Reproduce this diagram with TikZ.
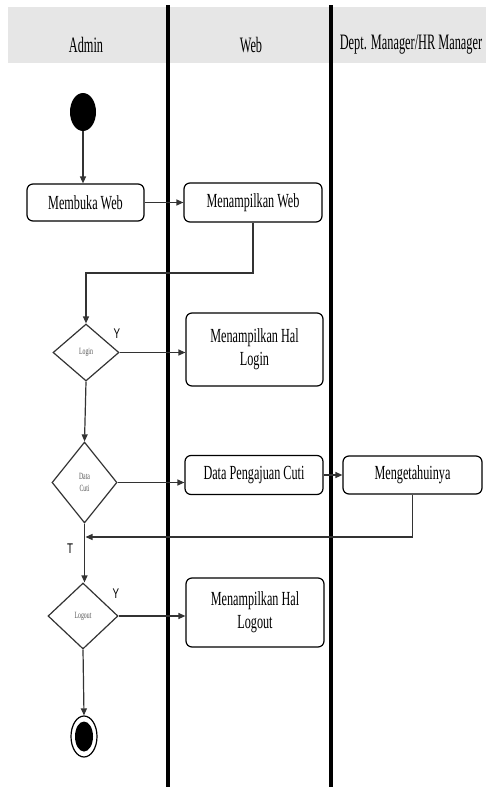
\documentclass[tikz,border=0pt]{standalone}
\usepackage{fontspec}
\setmainfont{Liberation Serif}[FakeStretch=0.61]
\newfontfamily\headfont{Liberation Serif}[FakeStretch=0.56]
\newfontfamily\labelfont{Liberation Sans}[FakeStretch=0.7]
\usetikzlibrary{shapes.geometric,arrows.meta}
\definecolor{headgray}{HTML}{E6E6E6}
\definecolor{linegray}{HTML}{333333}
\definecolor{smalltext}{HTML}{555555}
\begin{document}
\begin{tikzpicture}[x=1pt,y=-1pt,
  actbox/.style={draw=black,line width=1.2pt,rounded corners=6pt,align=center,
    font=\fontsize{20}{23}\selectfont,inner sep=0pt},
  decision/.style={diamond,draw=linegray,line width=1.2pt,inner sep=0pt,align=center,
    font=\fontsize{9.5}{12}\selectfont\color{smalltext}},
  flow/.style={draw=linegray,line width=1.2pt,-{Triangle[length=7pt,width=6pt]}},
  lane/.style={draw=black,line width=3.8pt},
  headtext/.style={font=\headfont\fontsize{22}{24}\selectfont},
  guard/.style={font=\labelfont\fontsize{14}{16}\selectfont}]
\useasboundingbox (0,0) rectangle (486,787);

% swimlane header band and dividers
\fill[headgray] (8,7) rectangle (486,63);
\node[headtext] (hAdmin) at (86,45) {Admin};
\node[headtext] (hWeb) at (251,45) {Web};
\node[headtext] (hMgr) at (411,45) {Dept. Manager/HR Manager};
\draw[lane] (168,5) -- (168,787);
\draw[lane] (331,5) -- (331,787);

% activity nodes
\node[ellipse,fill=black,minimum width=26pt,minimum height=38pt,inner sep=0pt] (start) at (83,112) {};
\node[actbox,minimum width=117pt,minimum height=37pt] (membuka) at (85.5,202.5) {Membuka Web};
\node[actbox,minimum width=138pt,minimum height=39pt] (menWeb) at (253,202.5) {Menampilkan Web};
\node[decision,minimum width=66pt,minimum height=57pt] (login) at (86,352.5) {Login};
\node[actbox,minimum width=137pt,minimum height=73pt] (halLogin) at (254.5,349.5) {Menampilkan Hal\\Login};
\node[decision,minimum width=65pt,minimum height=81pt] (dataCuti) at (84.5,482.5) {Data\\Cuti};
\node[actbox,minimum width=138pt,minimum height=39pt] (pengajuan) at (254,475) {Data Pengajuan Cuti};
\node[actbox,minimum width=139pt,minimum height=38pt] (tahu) at (412.5,475) {Mengetahuinya};
\node[decision,minimum width=70pt,minimum height=66pt] (logout) at (83,616) {Logout};
\node[actbox,minimum width=138pt,minimum height=69pt] (halLogout) at (255,612.5) {Menampilkan Hal\\Logout};
\node[ellipse,draw=black,line width=1.2pt,minimum width=26pt,minimum height=41pt,inner sep=0pt] (end) at (84,736.5) {};
\node[ellipse,fill=black,minimum width=18pt,minimum height=30pt,inner sep=0pt] (endDot) at (end.center) {};

% bend points
\coordinate (turnA) at (0,273);
\coordinate (turnB) at (0,537);

% connectors
\draw[flow] (start.south) -- (start.south |- membuka.north);
\draw[flow] (membuka.east) -- (menWeb.west);
\draw[flow] (menWeb.south) -- (menWeb.south |- turnA) -| (login.north);
\draw[flow] (login.east) -- (login.east -| halLogin.west);
\draw[flow] (login.south) -- (dataCuti.north);
\draw[flow] (dataCuti.east) -- (dataCuti.east -| pengajuan.west);
\draw[flow] (pengajuan.east) -- (tahu.west);
\draw[flow] (tahu.south) -- (tahu.south |- turnB) -- ([xshift=1pt]dataCuti.south |- turnB);
\draw[flow] (dataCuti.south) -- (dataCuti.south |- logout.north);
\draw[flow] (logout.east) -- (logout.east -| halLogout.west);
\draw[flow] (logout.south) -- (end.north);

% guard labels
\node[guard] (yLogin) at (117,334) {Y};
\node[guard] (tCuti) at (70,549) {T};
\node[guard] (yLogout) at (116,594) {Y};
\end{tikzpicture}
\end{document}
